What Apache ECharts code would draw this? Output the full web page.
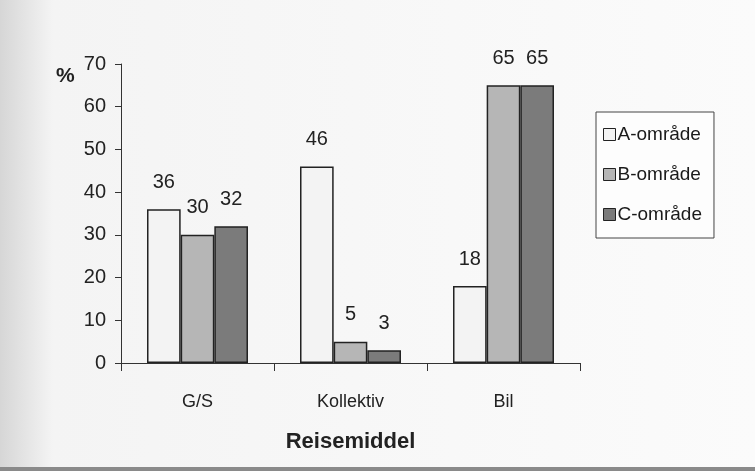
<!DOCTYPE html>
<html><head><meta charset="utf-8">
<script src="https://cdn.jsdelivr.net/npm/echarts@6/dist/echarts.min.js"></script>
<style>html,body{margin:0;padding:0;}#c{width:755px;height:471px;}</style>
</head><body><div id="c"></div>
<script>
var categories = ['G/S', 'Kollektiv', 'Bil'];
var seriesNames = ['A-område', 'B-område', 'C-område'];
var valuesA = [36, 46, 18];
var valuesB = [30, 5, 65];
var valuesC = [32, 3, 65];
var yTicks = [0, 10, 20, 30, 40, 50, 60, 70];

var font = 'Liberation Sans, Arial, sans-serif';
var colors = ['#f3f3f3', '#b6b6b6', '#7b7b7b'];
var allValues = [valuesA, valuesB, valuesC];

var chart = echarts.init(document.getElementById('c'));
chart.setOption({
  backgroundColor: {
    type: 'linear', x: 0, y: 0, x2: 1, y2: 0,
    colorStops: [
      {offset: 0, color: '#d6d6d6'},
      {offset: 0.07, color: '#f4f4f4'},
      {offset: 1, color: '#fbfbfb'}
    ]
  },
  animation: false,
  grid: {left: 121, right: 175, top: 64, bottom: 108},
  legend: {
    orient: 'vertical',
    left: 596, top: 112,
    padding: [13, 12, 14, 7],
    itemGap: 21,
    itemWidth: 12, itemHeight: 12,
    icon: 'rect',
    borderColor: '#444', borderWidth: 1,
    backgroundColor: '#fdfdfd',
    textStyle: {fontFamily: font, fontSize: 19, color: '#1a1a1a', padding: [0, 0, 0, -3]},
    itemStyle: {borderColor: '#222', borderWidth: 1},
    data: seriesNames
  },
  graphic: [
    {type: 'text', left: 56, top: 66, style: {text: '%', font: 'bold 21px ' + font, fill: '#222'}},
    {type: 'rect', shape: {x: 0, y: 467, width: 755, height: 4}, style: {fill: '#8a8a8a'}}
  ],
  xAxis: {
    type: 'category',
    data: categories,
    name: 'Reisemiddel',
    nameLocation: 'middle',
    nameGap: 68,
    nameTextStyle: {fontFamily: font, fontSize: 22, fontWeight: 'bold', color: '#222'},
    axisLine: {lineStyle: {color: '#333', width: 1}},
    axisTick: {show: true, length: 8, lineStyle: {color: '#333'}},
    axisLabel: {fontFamily: font, fontSize: 18, color: '#222', margin: 30}
  },
  yAxis: {
    type: 'value',
    min: 0, max: 70, interval: 10,
    splitLine: {show: false},
    axisLine: {show: true, lineStyle: {color: '#333', width: 1}},
    axisTick: {show: true, length: 6, lineStyle: {color: '#333'}},
    axisLabel: {
      fontFamily: font, fontSize: 20, color: '#222', margin: 15,
      formatter: function (v) { return yTicks.indexOf(v) >= 0 ? String(v) : ''; }
    }
  },
  series: seriesNames.map(function (n, i) {
    return {
      name: n,
      type: 'bar',
      data: allValues[i],
      barGap: '0%',
      barCategoryGap: '34%',
      itemStyle: {color: colors[i], borderColor: '#222', borderWidth: 1.5},
      label: {show: true, position: 'top', distance: 17, fontFamily: font, fontSize: 20, color: '#222'}
    };
  })
});
</script>
</body></html>
